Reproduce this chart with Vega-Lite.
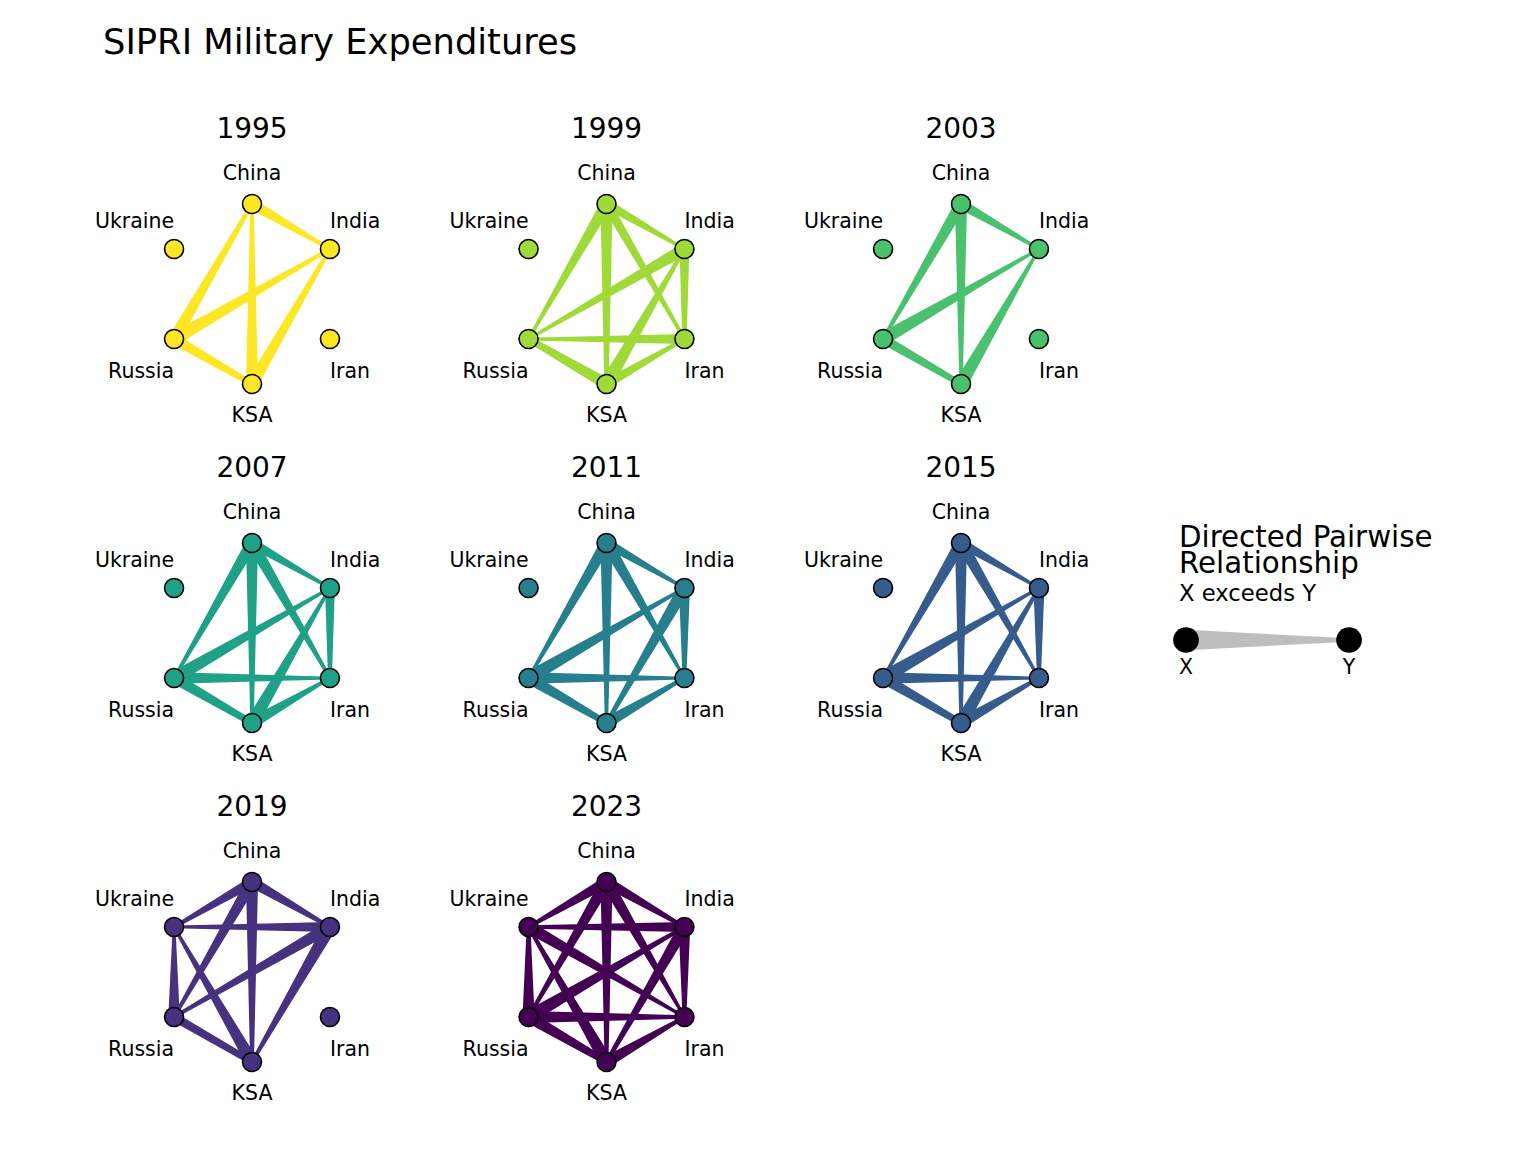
{
  "$schema": "https://vega.github.io/schema/vega-lite/v6.json",
  "background": "white",
  "padding": {"left": 82, "top": 25, "right": 5, "bottom": 5},
  "title": {"text": "SIPRI Military Expenditures", "anchor": "start", "fontSize": 35.3, "fontWeight": "normal", "font": "DejaVu Sans", "color": "black", "offset": 55, "dx": 21},
  "datasets": {
    "layout": [
      {"node": "China", "x": 0, "y": 1},
      {"node": "India", "x": 0.866, "y": 0.5},
      {"node": "Iran", "x": 0.866, "y": -0.5},
      {"node": "KSA", "x": 0, "y": -1},
      {"node": "Russia", "x": -0.866, "y": -0.5},
      {"node": "Ukraine", "x": -0.866, "y": 0.5}
    ],
    "graph": [
      {"year": 1995, "node": "China"}, {"year": 1995, "node": "India"}, {"year": 1995, "node": "Iran"}, {"year": 1995, "node": "KSA"}, {"year": 1995, "node": "Russia"}, {"year": 1995, "node": "Ukraine"},
      {"year": 1999, "node": "China"}, {"year": 1999, "node": "India"}, {"year": 1999, "node": "Iran"}, {"year": 1999, "node": "KSA"}, {"year": 1999, "node": "Russia"}, {"year": 1999, "node": "Ukraine"},
      {"year": 2003, "node": "China"}, {"year": 2003, "node": "India"}, {"year": 2003, "node": "Iran"}, {"year": 2003, "node": "KSA"}, {"year": 2003, "node": "Russia"}, {"year": 2003, "node": "Ukraine"},
      {"year": 2007, "node": "China"}, {"year": 2007, "node": "India"}, {"year": 2007, "node": "Iran"}, {"year": 2007, "node": "KSA"}, {"year": 2007, "node": "Russia"}, {"year": 2007, "node": "Ukraine"},
      {"year": 2011, "node": "China"}, {"year": 2011, "node": "India"}, {"year": 2011, "node": "Iran"}, {"year": 2011, "node": "KSA"}, {"year": 2011, "node": "Russia"}, {"year": 2011, "node": "Ukraine"},
      {"year": 2015, "node": "China"}, {"year": 2015, "node": "India"}, {"year": 2015, "node": "Iran"}, {"year": 2015, "node": "KSA"}, {"year": 2015, "node": "Russia"}, {"year": 2015, "node": "Ukraine"},
      {"year": 2019, "node": "China"}, {"year": 2019, "node": "India"}, {"year": 2019, "node": "Iran"}, {"year": 2019, "node": "KSA"}, {"year": 2019, "node": "Russia"}, {"year": 2019, "node": "Ukraine"},
      {"year": 2023, "node": "China"}, {"year": 2023, "node": "India"}, {"year": 2023, "node": "Iran"}, {"year": 2023, "node": "KSA"}, {"year": 2023, "node": "Russia"}, {"year": 2023, "node": "Ukraine"},

      {"year": 1995, "pair": "China>India", "node": "China", "w": 10}, {"year": 1995, "pair": "China>India", "node": "India", "w": 2.5},
      {"year": 1995, "pair": "Russia>China", "node": "Russia", "w": 11}, {"year": 1995, "pair": "Russia>China", "node": "China", "w": 3.5},
      {"year": 1995, "pair": "KSA>China", "node": "KSA", "w": 11}, {"year": 1995, "pair": "KSA>China", "node": "China", "w": 3},
      {"year": 1995, "pair": "Russia>India", "node": "Russia", "w": 12}, {"year": 1995, "pair": "Russia>India", "node": "India", "w": 3},
      {"year": 1995, "pair": "KSA>India", "node": "KSA", "w": 11}, {"year": 1995, "pair": "KSA>India", "node": "India", "w": 3.5},
      {"year": 1995, "pair": "Russia>KSA", "node": "Russia", "w": 9.5}, {"year": 1995, "pair": "Russia>KSA", "node": "KSA", "w": 5.5},

      {"year": 1999, "pair": "China>India", "node": "China", "w": 9}, {"year": 1999, "pair": "China>India", "node": "India", "w": 2.5},
      {"year": 1999, "pair": "China>Russia", "node": "China", "w": 11}, {"year": 1999, "pair": "China>Russia", "node": "Russia", "w": 2.5},
      {"year": 1999, "pair": "China>KSA", "node": "China", "w": 11}, {"year": 1999, "pair": "China>KSA", "node": "KSA", "w": 4},
      {"year": 1999, "pair": "China>Iran", "node": "China", "w": 9}, {"year": 1999, "pair": "China>Iran", "node": "Iran", "w": 3},
      {"year": 1999, "pair": "India>Russia", "node": "India", "w": 11}, {"year": 1999, "pair": "India>Russia", "node": "Russia", "w": 2.5},
      {"year": 1999, "pair": "India>Iran", "node": "India", "w": 9}, {"year": 1999, "pair": "India>Iran", "node": "Iran", "w": 4},
      {"year": 1999, "pair": "KSA>India", "node": "KSA", "w": 12}, {"year": 1999, "pair": "KSA>India", "node": "India", "w": 3},
      {"year": 1999, "pair": "Iran>Russia", "node": "Iran", "w": 9}, {"year": 1999, "pair": "Iran>Russia", "node": "Russia", "w": 2.5},
      {"year": 1999, "pair": "KSA>Russia", "node": "KSA", "w": 10.5}, {"year": 1999, "pair": "KSA>Russia", "node": "Russia", "w": 6},
      {"year": 1999, "pair": "KSA>Iran", "node": "KSA", "w": 9}, {"year": 1999, "pair": "KSA>Iran", "node": "Iran", "w": 3},

      {"year": 2003, "pair": "China>India", "node": "China", "w": 9.5}, {"year": 2003, "pair": "China>India", "node": "India", "w": 2.5},
      {"year": 2003, "pair": "China>Russia", "node": "China", "w": 11}, {"year": 2003, "pair": "China>Russia", "node": "Russia", "w": 3},
      {"year": 2003, "pair": "China>KSA", "node": "China", "w": 11}, {"year": 2003, "pair": "China>KSA", "node": "KSA", "w": 3},
      {"year": 2003, "pair": "Russia>India", "node": "Russia", "w": 12}, {"year": 2003, "pair": "Russia>India", "node": "India", "w": 2.5},
      {"year": 2003, "pair": "KSA>India", "node": "KSA", "w": 12}, {"year": 2003, "pair": "KSA>India", "node": "India", "w": 2.5},
      {"year": 2003, "pair": "Russia>KSA", "node": "Russia", "w": 9}, {"year": 2003, "pair": "Russia>KSA", "node": "KSA", "w": 5.5},

      {"year": 2007, "pair": "China>India", "node": "China", "w": 9}, {"year": 2007, "pair": "China>India", "node": "India", "w": 2.5},
      {"year": 2007, "pair": "China>Russia", "node": "China", "w": 11}, {"year": 2007, "pair": "China>Russia", "node": "Russia", "w": 2.5},
      {"year": 2007, "pair": "China>KSA", "node": "China", "w": 11}, {"year": 2007, "pair": "China>KSA", "node": "KSA", "w": 3},
      {"year": 2007, "pair": "China>Iran", "node": "China", "w": 11}, {"year": 2007, "pair": "China>Iran", "node": "Iran", "w": 3},
      {"year": 2007, "pair": "Russia>India", "node": "Russia", "w": 12}, {"year": 2007, "pair": "Russia>India", "node": "India", "w": 2.5},
      {"year": 2007, "pair": "India>Iran", "node": "India", "w": 9}, {"year": 2007, "pair": "India>Iran", "node": "Iran", "w": 3.5},
      {"year": 2007, "pair": "KSA>India", "node": "KSA", "w": 12}, {"year": 2007, "pair": "KSA>India", "node": "India", "w": 2.5},
      {"year": 2007, "pair": "Russia>Iran", "node": "Russia", "w": 10.5}, {"year": 2007, "pair": "Russia>Iran", "node": "Iran", "w": 2.5},
      {"year": 2007, "pair": "Russia>KSA", "node": "Russia", "w": 10}, {"year": 2007, "pair": "Russia>KSA", "node": "KSA", "w": 6},
      {"year": 2007, "pair": "KSA>Iran", "node": "KSA", "w": 10.5}, {"year": 2007, "pair": "KSA>Iran", "node": "Iran", "w": 2.5},

      {"year": 2011, "pair": "China>India", "node": "China", "w": 9}, {"year": 2011, "pair": "China>India", "node": "India", "w": 2.5},
      {"year": 2011, "pair": "China>Russia", "node": "China", "w": 11}, {"year": 2011, "pair": "China>Russia", "node": "Russia", "w": 2.5},
      {"year": 2011, "pair": "China>KSA", "node": "China", "w": 11}, {"year": 2011, "pair": "China>KSA", "node": "KSA", "w": 3},
      {"year": 2011, "pair": "China>Iran", "node": "China", "w": 11}, {"year": 2011, "pair": "China>Iran", "node": "Iran", "w": 2.5},
      {"year": 2011, "pair": "Russia>India", "node": "Russia", "w": 12}, {"year": 2011, "pair": "Russia>India", "node": "India", "w": 2.5},
      {"year": 2011, "pair": "India>Iran", "node": "India", "w": 10}, {"year": 2011, "pair": "India>Iran", "node": "Iran", "w": 3.5},
      {"year": 2011, "pair": "India>KSA", "node": "India", "w": 11.5}, {"year": 2011, "pair": "India>KSA", "node": "KSA", "w": 3.5},
      {"year": 2011, "pair": "Russia>Iran", "node": "Russia", "w": 10.5}, {"year": 2011, "pair": "Russia>Iran", "node": "Iran", "w": 2.5},
      {"year": 2011, "pair": "Russia>KSA", "node": "Russia", "w": 10.5}, {"year": 2011, "pair": "Russia>KSA", "node": "KSA", "w": 5.5},
      {"year": 2011, "pair": "KSA>Iran", "node": "KSA", "w": 10.5}, {"year": 2011, "pair": "KSA>Iran", "node": "Iran", "w": 3},

      {"year": 2015, "pair": "China>India", "node": "China", "w": 9}, {"year": 2015, "pair": "China>India", "node": "India", "w": 2.5},
      {"year": 2015, "pair": "China>Russia", "node": "China", "w": 11}, {"year": 2015, "pair": "China>Russia", "node": "Russia", "w": 2.5},
      {"year": 2015, "pair": "China>KSA", "node": "China", "w": 11}, {"year": 2015, "pair": "China>KSA", "node": "KSA", "w": 3},
      {"year": 2015, "pair": "China>Iran", "node": "China", "w": 11}, {"year": 2015, "pair": "China>Iran", "node": "Iran", "w": 2.5},
      {"year": 2015, "pair": "Russia>India", "node": "Russia", "w": 12}, {"year": 2015, "pair": "Russia>India", "node": "India", "w": 2.5},
      {"year": 2015, "pair": "India>Iran", "node": "India", "w": 10}, {"year": 2015, "pair": "India>Iran", "node": "Iran", "w": 3.5},
      {"year": 2015, "pair": "KSA>India", "node": "KSA", "w": 12}, {"year": 2015, "pair": "KSA>India", "node": "India", "w": 3},
      {"year": 2015, "pair": "Russia>Iran", "node": "Russia", "w": 10.5}, {"year": 2015, "pair": "Russia>Iran", "node": "Iran", "w": 2.5},
      {"year": 2015, "pair": "Russia>KSA", "node": "Russia", "w": 10}, {"year": 2015, "pair": "Russia>KSA", "node": "KSA", "w": 6},
      {"year": 2015, "pair": "KSA>Iran", "node": "KSA", "w": 10.5}, {"year": 2015, "pair": "KSA>Iran", "node": "Iran", "w": 3},

      {"year": 2019, "pair": "China>India", "node": "China", "w": 10}, {"year": 2019, "pair": "China>India", "node": "India", "w": 3},
      {"year": 2019, "pair": "China>Ukraine", "node": "China", "w": 9.5}, {"year": 2019, "pair": "China>Ukraine", "node": "Ukraine", "w": 3},
      {"year": 2019, "pair": "China>Russia", "node": "China", "w": 11}, {"year": 2019, "pair": "China>Russia", "node": "Russia", "w": 3},
      {"year": 2019, "pair": "China>KSA", "node": "China", "w": 11}, {"year": 2019, "pair": "China>KSA", "node": "KSA", "w": 3.5},
      {"year": 2019, "pair": "India>Ukraine", "node": "India", "w": 9}, {"year": 2019, "pair": "India>Ukraine", "node": "Ukraine", "w": 2.5},
      {"year": 2019, "pair": "Russia>Ukraine", "node": "Russia", "w": 10.5}, {"year": 2019, "pair": "Russia>Ukraine", "node": "Ukraine", "w": 2.5},
      {"year": 2019, "pair": "KSA>Ukraine", "node": "KSA", "w": 11.5}, {"year": 2019, "pair": "KSA>Ukraine", "node": "Ukraine", "w": 2.5},
      {"year": 2019, "pair": "India>Russia", "node": "India", "w": 11}, {"year": 2019, "pair": "India>Russia", "node": "Russia", "w": 3},
      {"year": 2019, "pair": "India>KSA", "node": "India", "w": 12}, {"year": 2019, "pair": "India>KSA", "node": "KSA", "w": 3},
      {"year": 2019, "pair": "Russia>KSA", "node": "Russia", "w": 8}, {"year": 2019, "pair": "Russia>KSA", "node": "KSA", "w": 6},

      {"year": 2023, "pair": "China>India", "node": "China", "w": 10}, {"year": 2023, "pair": "China>India", "node": "India", "w": 3},
      {"year": 2023, "pair": "China>Ukraine", "node": "China", "w": 10}, {"year": 2023, "pair": "China>Ukraine", "node": "Ukraine", "w": 3},
      {"year": 2023, "pair": "China>Russia", "node": "China", "w": 11}, {"year": 2023, "pair": "China>Russia", "node": "Russia", "w": 3},
      {"year": 2023, "pair": "China>KSA", "node": "China", "w": 11}, {"year": 2023, "pair": "China>KSA", "node": "KSA", "w": 3.5},
      {"year": 2023, "pair": "China>Iran", "node": "China", "w": 11}, {"year": 2023, "pair": "China>Iran", "node": "Iran", "w": 2.5},
      {"year": 2023, "pair": "India>Ukraine", "node": "India", "w": 9}, {"year": 2023, "pair": "India>Ukraine", "node": "Ukraine", "w": 3},
      {"year": 2023, "pair": "Ukraine>Iran", "node": "Ukraine", "w": 11}, {"year": 2023, "pair": "Ukraine>Iran", "node": "Iran", "w": 2.5},
      {"year": 2023, "pair": "Russia>Ukraine", "node": "Russia", "w": 11}, {"year": 2023, "pair": "Russia>Ukraine", "node": "Ukraine", "w": 3.5},
      {"year": 2023, "pair": "KSA>Ukraine", "node": "KSA", "w": 11.5}, {"year": 2023, "pair": "KSA>Ukraine", "node": "Ukraine", "w": 3},
      {"year": 2023, "pair": "Russia>India", "node": "Russia", "w": 12}, {"year": 2023, "pair": "Russia>India", "node": "India", "w": 3},
      {"year": 2023, "pair": "India>Iran", "node": "India", "w": 10.5}, {"year": 2023, "pair": "India>Iran", "node": "Iran", "w": 3.5},
      {"year": 2023, "pair": "India>KSA", "node": "India", "w": 11}, {"year": 2023, "pair": "India>KSA", "node": "KSA", "w": 3.5},
      {"year": 2023, "pair": "Russia>Iran", "node": "Russia", "w": 11}, {"year": 2023, "pair": "Russia>Iran", "node": "Iran", "w": 3},
      {"year": 2023, "pair": "Russia>KSA", "node": "Russia", "w": 10.5}, {"year": 2023, "pair": "Russia>KSA", "node": "KSA", "w": 6},
      {"year": 2023, "pair": "KSA>Iran", "node": "KSA", "w": 10.5}, {"year": 2023, "pair": "KSA>Iran", "node": "Iran", "w": 3}
    ]
  },
  "hconcat": [
    {
      "data": {"name": "graph"},
      "transform": [
        {"lookup": "node", "from": {"data": {"name": "layout"}, "key": "node", "fields": ["x", "y"]}}
      ],
      "facet": {"field": "year", "type": "ordinal", "header": {"title": null, "labelFontSize": 28, "labelFont": "DejaVu Sans", "labelColor": "black", "labelPadding": 5}},
      "columns": 3,
      "spacing": {"row": 16, "column": 14.5},
      "spec": {
        "width": 340,
        "height": 290,
        "encoding": {
          "x": {"field": "x", "type": "quantitative", "scale": {"domain": [-1.8889, 1.8889], "nice": false, "zero": false}, "axis": null},
          "y": {"field": "y", "type": "quantitative", "scale": {"domain": [-1.6111, 1.6111], "nice": false, "zero": false}, "axis": null}
        },
        "layer": [
          {
            "transform": [{"filter": "isValid(datum.pair)"}],
            "mark": {"type": "trail", "opacity": 1},
            "encoding": {
              "detail": {"field": "pair"},
              "size": {"field": "w", "type": "quantitative", "scale": {"domain": [0, 20], "range": [0, 22]}, "legend": null},
              "color": {"field": "year", "type": "ordinal", "scale": {"domain": [1995, 1999, 2003, 2007, 2011, 2015, 2019, 2023], "range": ["#FDE725", "#A0DA39", "#4AC16D", "#1FA187", "#277F8E", "#365C8D", "#46327E", "#440154"]}, "legend": null}
            }
          },
          {
            "transform": [{"filter": "!isValid(datum.pair)"}],
            "mark": {"type": "circle", "opacity": 1, "stroke": "black", "strokeWidth": 1.6, "size": 360},
            "encoding": {
              "color": {"field": "year", "type": "ordinal", "legend": null}
            }
          },
          {
            "transform": [{"filter": "!isValid(datum.pair) && datum.node === 'China'"}],
            "mark": {"type": "text", "align": "center", "baseline": "middle", "dy": -30, "fontSize": 20.5, "font": "DejaVu Sans", "color": "black"},
            "encoding": {"text": {"field": "node"}}
          },
          {
            "transform": [{"filter": "!isValid(datum.pair) && datum.node === 'KSA'"}],
            "mark": {"type": "text", "align": "center", "baseline": "middle", "dy": 32, "fontSize": 20.5, "font": "DejaVu Sans", "color": "black"},
            "encoding": {"text": {"field": "node"}}
          },
          {
            "transform": [{"filter": "!isValid(datum.pair) && datum.node === 'Ukraine'"}],
            "mark": {"type": "text", "align": "right", "baseline": "middle", "dy": -27, "fontSize": 20.5, "font": "DejaVu Sans", "color": "black"},
            "encoding": {"text": {"field": "node"}}
          },
          {
            "transform": [{"filter": "!isValid(datum.pair) && datum.node === 'Russia'"}],
            "mark": {"type": "text", "align": "right", "baseline": "middle", "dy": 33, "fontSize": 20.5, "font": "DejaVu Sans", "color": "black"},
            "encoding": {"text": {"field": "node"}}
          },
          {
            "transform": [{"filter": "!isValid(datum.pair) && datum.node === 'India'"}],
            "mark": {"type": "text", "align": "left", "baseline": "middle", "dy": -27, "fontSize": 20.5, "font": "DejaVu Sans", "color": "black"},
            "encoding": {"text": {"field": "node"}}
          },
          {
            "transform": [{"filter": "!isValid(datum.pair) && datum.node === 'Iran'"}],
            "mark": {"type": "text", "align": "left", "baseline": "middle", "dy": 33, "fontSize": 20.5, "font": "DejaVu Sans", "color": "black"},
            "encoding": {"text": {"field": "node"}}
          }
        ]
      }
    },
    {
      "spacing": 0,
      "vconcat": [
        {
          "width": 1,
          "height": 375,
          "data": {"values": []},
          "mark": "point"
        },
        {
          "width": 180,
          "height": 40,
          "title": {"text": ["Directed Pairwise", "Relationship"], "subtitle": "X exceeds Y", "anchor": "start", "frame": "group", "fontSize": 29.3, "lineHeight": 26, "subtitleFontSize": 22.7, "font": "DejaVu Sans", "subtitleFont": "DejaVu Sans", "fontWeight": "normal", "color": "black", "subtitleColor": "black", "subtitlePadding": 4, "offset": 14},
          "data": {"values": [{"end": "X", "pos": 0, "w": 20.5}, {"end": "Y", "pos": 1, "w": 3.5}]},
          "encoding": {
            "x": {"field": "pos", "type": "quantitative", "scale": {"domain": [-0.043, 1.061], "nice": false, "zero": false}, "axis": null}
          },
          "layer": [
            {
              "mark": {"type": "trail", "color": "#BEBEBE", "opacity": 1},
              "encoding": {"size": {"field": "w", "type": "quantitative", "scale": {"domain": [0, 20], "range": [0, 20]}, "legend": null}}
            },
            {
              "mark": {"type": "circle", "color": "black", "opacity": 1, "size": 660}
            },
            {
              "mark": {"type": "text", "dy": 28, "fontSize": 20.5, "font": "DejaVu Sans", "color": "black", "baseline": "middle"},
              "encoding": {"text": {"field": "end"}}
            }
          ]
        }
      ]
    }
  ],
  "spacing": 42,
  "resolve": {"scale": {"x": "independent", "y": "independent", "size": "independent"}},
  "config": {
    "view": {"stroke": null},
    "font": "DejaVu Sans"
  }
}
